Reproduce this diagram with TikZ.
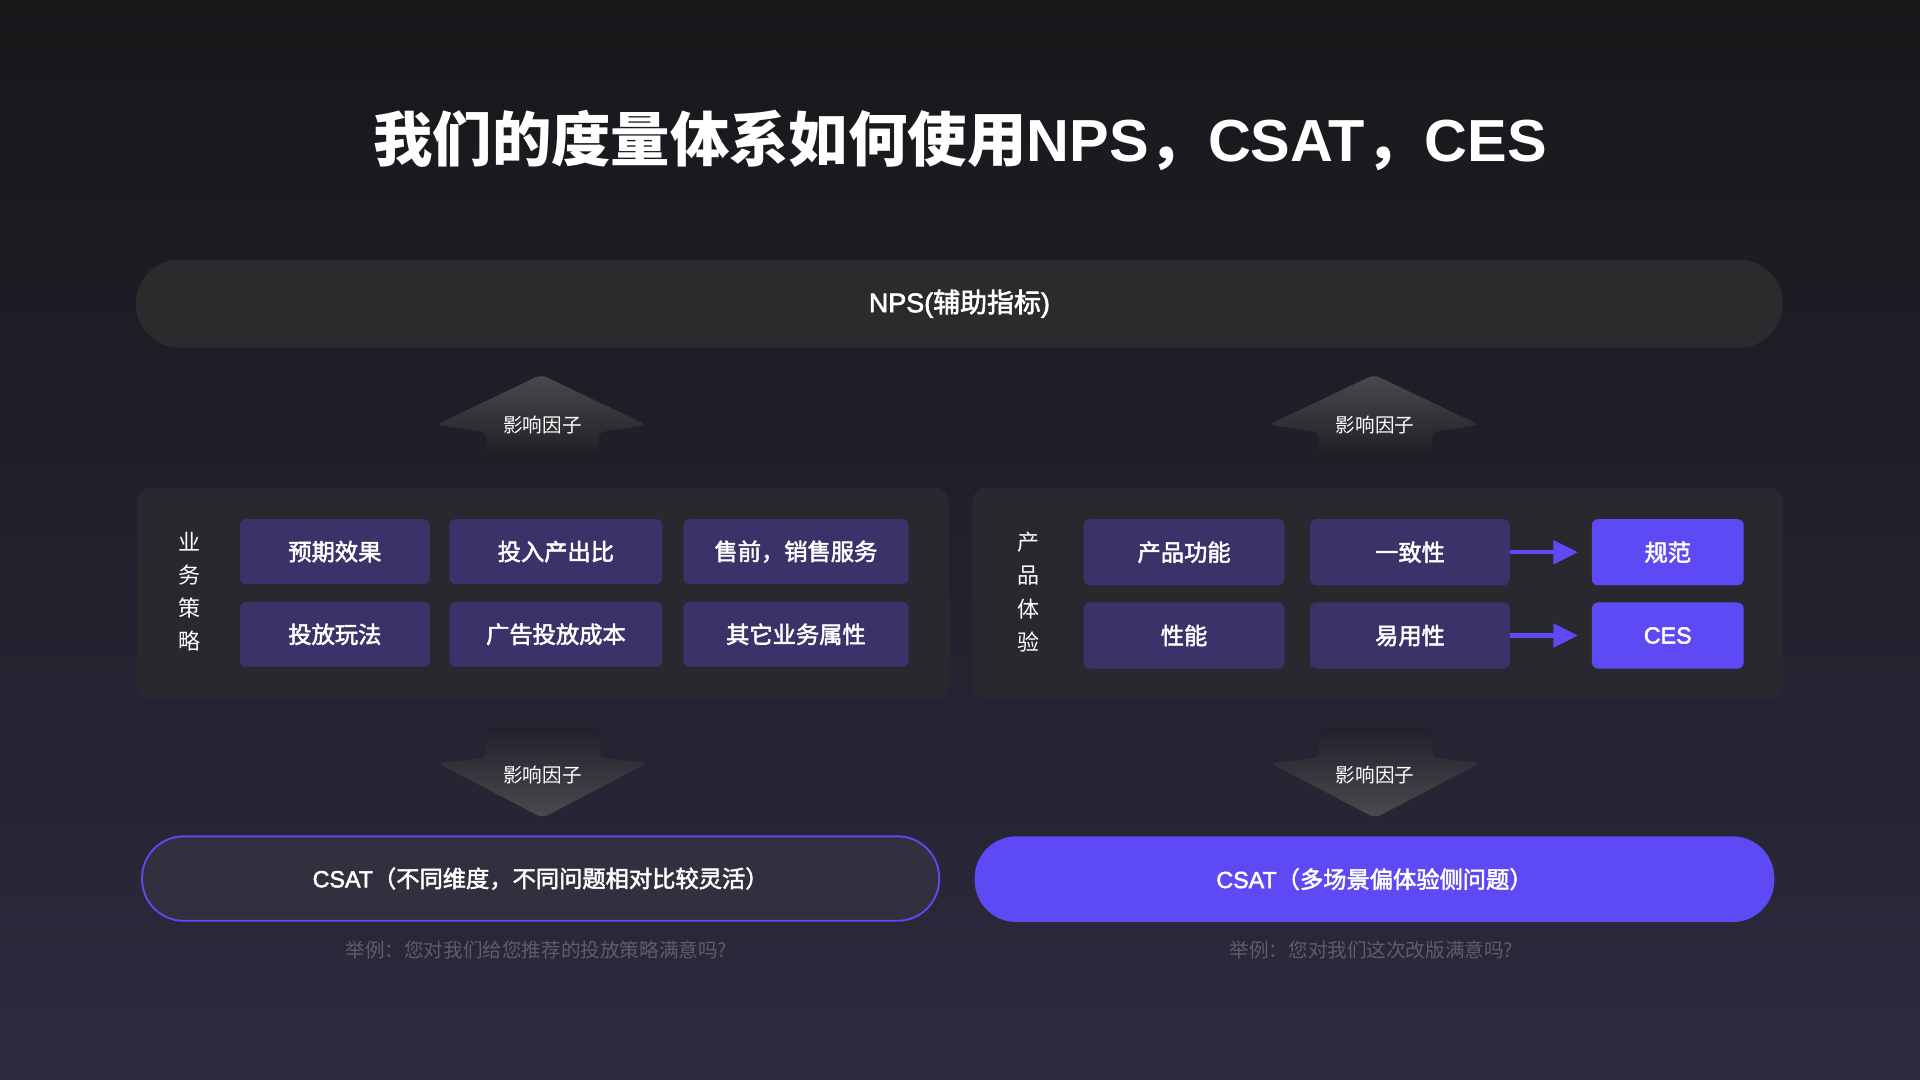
\documentclass[tikz,border=0pt]{standalone}
\usepackage{fontspec}
\setmainfont{Noto Sans CJK SC}
\newfontfamily\medcjk[FakeBold=2.2]{Noto Sans CJK SC}
\newfontfamily\latin{Liberation Sans}
\newfontfamily\medlatin[FakeBold=2.2]{Liberation Sans}
\usetikzlibrary{arrows.meta}

\definecolor{bgtop}{HTML}{17171A}
\definecolor{bgmid}{HTML}{1E1D24}
\definecolor{bgbot}{HTML}{2C2A3E}
\definecolor{barfill}{HTML}{2B2B2D}
\definecolor{panelfill}{HTML}{29282F}
\definecolor{boxfill}{HTML}{3B3269}
\definecolor{brand}{HTML}{5E4AF5}
\definecolor{pillfill}{HTML}{32303F}
\definecolor{hintgray}{HTML}{5F5E66}
\definecolor{arrowhi}{HTML}{4A4A4E}

\tikzset{every picture/.style={line width=0.75pt},
	itembox/.style={fill=boxfill, rounded corners=5pt, inner sep=0pt, text=white, minimum height=53pt, font=\fontsize{19}{23}\selectfont\medcjk},
	keybox/.style={itembox, fill=brand},
	sidelabel/.style={text=white, align=center, font=\fontsize{18}{27}\selectfont},
	factortext/.style={text=white, font=\fontsize{16}{19}\selectfont},
	flowarrow/.style={draw=brand, line width=3.5pt, -{Triangle[length=20pt,width=19pt]}, shorten >=11pt},
	pill/.style={rounded corners=34pt, minimum height=69pt, inner sep=0pt, text=white, font=\fontsize{19}{23}\selectfont\medcjk},
	hinttext/.style={text=hintgray, font=\fontsize{16}{19}\selectfont}}

\begin{document}
\begin{tikzpicture}[x=1pt,y=1pt,yscale=-1,xscale=1]
	\useasboundingbox (0,0) rectangle (1568,882);
	%Shape: Background
	\shade [top color=bgtop, middle color=bgmid, bottom color=bgbot] (0,0) rectangle (1568,882);

	% Text Node
	\node [text=white, font=\fontsize{48.5}{56}\selectfont\bfseries] (title) at (784,115) {我们的度量体系如何使用{\latin NPS}，{\latin CSAT}，{\latin CES}};
	% Text Node
	\node [fill=barfill, rounded corners=36pt, minimum width=1345pt, minimum height=72pt, text=white, font=\fontsize{22}{26}\selectfont\medcjk] (nps) at (783.5,248) {{\medlatin NPS(}辅助指标{\medlatin )}};

	%Shape: Up Arrow
	\shade [top color=arrowhi, bottom color=bgtop!40!bgmid, rounded corners=5pt] (442,306) -- (356,347) -- (397,353) -- (397,378) -- (489,378) -- (489,353) -- (528,347) -- cycle;
	%Shape: Up Arrow
	\shade [top color=arrowhi, bottom color=bgtop!40!bgmid, rounded corners=5pt] (1122,306) -- (1036,347) -- (1077,353) -- (1077,378) -- (1169,378) -- (1169,353) -- (1208,347) -- cycle;
	% Text Node
	\node [factortext] (upleft) at (443,347) {影响因子};
	% Text Node
	\node [factortext] (upright) at (1123,347) {影响因子};

	%Shape: Rectangle
	\fill [panelfill, rounded corners=12pt] (112,398) rectangle (775,571);
	%Shape: Rectangle
	\fill [panelfill, rounded corners=12pt] (794,398) rectangle (1456,571);

	% Text Node
	\node [sidelabel] (bizlabel) at (155,483.5) {业\\务\\策\\略};
	\node [itembox, minimum width=155pt] (expect) at (273.5,450.5) {预期效果};
	\node [itembox, minimum width=174pt] (roi) at (454,450.5) {投入产出比};
	\node [itembox, minimum width=184pt] (presale) at (650,450.5) {售前，销售服务};
	\node [itembox, minimum width=155pt] (play) at (273.5,518) {投放玩法};
	\node [itembox, minimum width=174pt] (adcost) at (454,518) {广告投放成本};
	\node [itembox, minimum width=184pt] (other) at (650,518) {其它业务属性};

	% Text Node
	\node [sidelabel] (prodlabel) at (840,483.5) {产\\品\\体\\验};
	\node [itembox, minimum width=164pt, minimum height=54pt] (func) at (967,451) {产品功能};
	\node [itembox, minimum width=163pt, minimum height=54pt] (consist) at (1151.5,451) {一致性};
	\node [keybox, minimum width=124pt, minimum height=54pt] (spec) at (1362,451) {规范};
	\node [itembox, minimum width=164pt, minimum height=54pt] (perf) at (967,519) {性能};
	\node [itembox, minimum width=163pt, minimum height=54pt] (usab) at (1151.5,519) {易用性};
	\node [keybox, minimum width=124pt, minimum height=54pt] (ces) at (1362,519) {\medlatin CES};

	%Straight Lines
	\draw [flowarrow] (consist.east) -- (spec.west);
	%Straight Lines
	\draw [flowarrow] (usab.east) -- (ces.west);

	%Shape: Down Arrow
	\shade [top color=bgmid!70!bgbot, bottom color=arrowhi, rounded corners=5pt] (397,594) -- (397,619) -- (357,623) -- (443,668) -- (529,623) -- (490,619) -- (490,594) -- cycle;
	%Shape: Down Arrow
	\shade [top color=bgmid!70!bgbot, bottom color=arrowhi, rounded corners=5pt] (1077,594) -- (1077,619) -- (1037,623) -- (1123,668) -- (1209,623) -- (1170,619) -- (1170,594) -- cycle;
	% Text Node
	\node [factortext] (downleft) at (443,633) {影响因子};
	% Text Node
	\node [factortext] (downright) at (1123,633) {影响因子};

	% Text Node
	\node [pill, fill=pillfill, draw=brand, line width=1.5pt, minimum width=651pt] (csatleft) at (441.5,717.5) {{\medlatin CSAT}（不同维度，不同问题相对比较灵活）};
	% Text Node
	\node [pill, fill=brand, minimum width=653pt, minimum height=70pt] (csatright) at (1122.5,718) {{\medlatin CSAT}（多场景偏体验侧问题）};
	% Text Node
	\node [hinttext] (hintleft) at (438,776) {举例：您对我们给您推荐的投放策略满意吗?};
	% Text Node
	\node [hinttext] (hintright) at (1120,776) {举例：您对我们这次改版满意吗?};

\end{tikzpicture}
\end{document}
